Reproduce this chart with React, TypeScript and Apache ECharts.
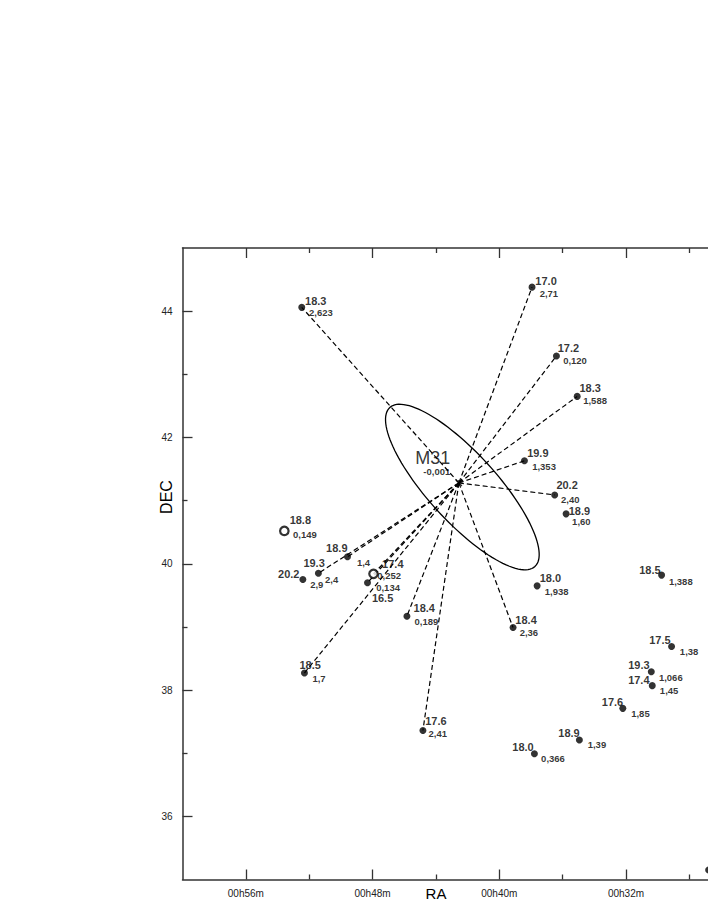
import React, { useEffect, useRef } from "react";
import * as echarts from "echarts";

// ---- data ----
const raMinutes = [52.47, 37.93, 36.39, 35.08, 38.41, 36.5, 35.78, 37.61, 39.13, 45.83, 44.82, 52.3, 48.32, 47.94, 49.58, 51.42, 52.4, 53.57, 29.75, 29.12, 30.4, 30.34, 32.2, 34.94, 37.78, 26.78];
const decDegrees = [44.06, 44.38, 43.29, 42.65, 41.63, 41.09, 40.79, 39.65, 38.99, 39.17, 37.36, 38.27, 39.7, 39.84, 40.11, 39.85, 39.75, 40.52, 39.82, 38.69, 38.29, 38.07, 37.71, 37.21, 36.99, 35.15];
const magnitudes = ["18.3", "17.0", "17.2", "18.3", "19.9", "20.2", "18.9", "18.0", "18.4", "18.4", "17.6", "18.5", "16.5", "17.4", "18.9", "19.3", "20.2", "18.8", "18.5", "17.5", "19.3", "17.4", "17.6", "18.9", "18.0", ""];
const redshifts = ["2,623", "2,71", "0,120", "1,588", "1,353", "2,40", "1,60", "1,938", "2,36", "0,189", "2,41", "1,7", "0,134", "0,252", "1,4", "2,4", "2,9", "0,149", "1,388", "1,38", "1,066", "1,45", "1,85", "1,39", "0,366", ""];
const linkedToM31 = [1, 1, 1, 1, 1, 1, 0, 0, 1, 1, 1, 1, 1, 1, 1, 1, 0, 0, 0, 0, 0, 0, 0, 0, 0, 0];
const openMarker = [0, 0, 0, 0, 0, 0, 0, 0, 0, 0, 0, 0, 0, 1, 0, 0, 0, 1, 0, 0, 0, 0, 0, 0, 0, 0];

const m31Center = [42.55, 41.28];
const m31Name = "M31";
const m31Value = "-0,001";
const ellipseCenter = [42.33, 41.215];
const ellipseMajor = [4.58, 1.259];
const ellipseMinor = [-1.6, 0.365];

const raRange = [26.82, 60];
const decRange = [35, 45];
const raMajorTicks = [32, 40, 48, 56];
const raMinorTicks = [28, 36, 44, 52];
const decMajorTicks = [36, 38, 40, 42, 44];
const decMinorTicks = [37, 39, 41, 43];

// ---- label layout (pixels relative to point) ----
const magLabelPos: [number, number, string][] = [
  [3.3, -6, "left"], [3.3, -6.6, "left"], [1.3, -8.2, "left"], [2.3, -8, "left"], [2.7, -8.2, "left"],
  [1.7, -10, "left"], [2.6, -3.2, "left"], [2.6, -8.2, "left"], [2.3, -7.7, "left"], [6.6, -7.7, "left"],
  [2.3, -9.5, "left"], [-5, -8.1, "left"], [4.4, 15.6, "left"], [9.7, -9, "left"], [0, -9.2, "right"],
  [-15, -10.3, "left"], [-3.4, -5.5, "right"], [6.4, -9.7, "left"], [-1, -5.3, "right"], [-1, -6, "right"],
  [-1.7, -6.4, "right"], [-2.7, -6, "right"], [0.4, -6.1, "right"], [0.3, -6.7, "right"], [-0.7, -6.5, "right"],
  [0, 0, "left"],
];
const valLabelPos: [number, number][] = [
  [7.3, 5], [7.6, 6.4], [6.7, 4.7], [6, 4], [7.7, 5.3], [6.4, 4.4], [6, 7.8], [7.6, 5.7], [6.6, 5], [7.6, 5.7],
  [5.6, 2.6], [8, 6], [8.7, 4.8], [3.7, 1.5], [9.4, 5.8], [6.7, 6.7], [7.3, 5.2], [8.7, 3.3], [7.3, 6.7], [8.3, 5],
  [7.6, 5.3], [7.6, 5], [8.4, 5.4], [8.3, 5], [6.7, 4.8], [0, 0],
];

const FONT = "'Liberation Sans', Arial, Helvetica, sans-serif";
const AXIS_COLOR = "#333";

function xAxisDef(position: string, ticks: number[], len: number, line: boolean, labels: boolean) {
  return {
    type: "value",
    position,
    inverse: true,
    min: raRange[0],
    max: raRange[1],
    axisLine: { show: line, onZero: false, lineStyle: { color: AXIS_COLOR, width: 1.5 } },
    axisTick: { show: true, inside: true, length: len, customValues: ticks, lineStyle: { color: AXIS_COLOR, width: 1.3 } },
    axisLabel: labels
      ? { show: true, customValues: ticks, formatter: (v: number) => "00h" + v + "m", fontFamily: FONT, fontSize: 10, color: "#222", margin: 9 }
      : { show: false },
    splitLine: { show: false },
  };
}
function yAxisDef(ticks: number[], len: number, line: boolean, labels: boolean) {
  return {
    type: "value",
    position: "left",
    min: decRange[0],
    max: decRange[1],
    axisLine: { show: line, onZero: false, lineStyle: { color: AXIS_COLOR, width: 1.5 } },
    axisTick: { show: true, inside: true, length: len, customValues: ticks, lineStyle: { color: AXIS_COLOR, width: 1.3 } },
    axisLabel: labels
      ? { show: true, customValues: ticks, fontFamily: FONT, fontSize: 10, color: "#222", margin: 10 }
      : { show: false },
    splitLine: { show: false },
  };
}

export default function App() {
  const ref = useRef<HTMLDivElement>(null);
  useEffect(() => {
    if (!ref.current) return;
    const chart = echarts.init(ref.current, undefined, { renderer: "svg" });

    const dotSize = 7;
    const openSize = 8.5;
    const starData = raMinutes.map((ra, i) => {
      const open = openMarker[i] === 1;
      const s = open ? openSize : dotSize;
      const p = magLabelPos[i];
      return {
        value: [ra, decDegrees[i]],
        symbolSize: s,
        itemStyle: open
          ? { color: "#fff", borderColor: "#000", borderWidth: 2.2 }
          : { color: "#000" },
        label: {
          show: magnitudes[i] !== "",
          formatter: magnitudes[i],
          position: [s / 2 + p[0], s / 2 + p[1]],
          align: p[2],
          verticalAlign: "middle",
        },
      };
    });
    const valData = raMinutes.map((ra, i) => {
      const p = valLabelPos[i];
      return {
        value: [ra, decDegrees[i]],
        label: {
          show: redshifts[i] !== "",
          formatter: redshifts[i],
          position: [0.5 + p[0], 0.5 + p[1]],
          align: "left",
          verticalAlign: "middle",
        },
      };
    });
    const linkData = raMinutes
      .map((ra, i) => ({ i, ra }))
      .filter((d) => linkedToM31[d.i] === 1)
      .map((d) => ({ coords: [m31Center, [d.ra, decDegrees[d.i]]] }));

    const option: any = {
      animation: false,
      grid: { left: 182.5, top: 248, right: 0, bottom: 37.5 },
      xAxis: [
        xAxisDef("bottom", raMajorTicks, 10, true, true),
        xAxisDef("bottom", raMinorTicks, 5, false, false),
        xAxisDef("top", raMajorTicks, 10, true, false),
        xAxisDef("top", raMinorTicks, 5, false, false),
      ],
      yAxis: [
        yAxisDef(decMajorTicks, 10, true, true),
        yAxisDef(decMinorTicks, 5, false, false),
      ],
      graphic: [
        {
          type: "text", x: 436, y: 893,
          style: { text: "RA", font: "15px " + FONT, fill: "#000", align: "center", verticalAlign: "middle" },
        },
        {
          type: "text", x: 166, y: 497, rotation: Math.PI / 2,
          style: { text: "DEC", font: "16px " + FONT, fill: "#000", align: "center", verticalAlign: "middle" },
        },
      ],
      series: [
        {
          type: "custom",
          renderItem: (params: any, api: any) => {
            const c = api.coord(ellipseCenter);
            const a = api.coord([ellipseCenter[0] + ellipseMajor[0], ellipseCenter[1] + ellipseMajor[1]]);
            const b = api.coord([ellipseCenter[0] + ellipseMinor[0], ellipseCenter[1] + ellipseMinor[1]]);
            const pts: number[][] = [];
            const n = 120;
            for (let k = 0; k <= n; k++) {
              const t = (2 * Math.PI * k) / n;
              pts.push([
                c[0] + (a[0] - c[0]) * Math.cos(t) + (b[0] - c[0]) * Math.sin(t),
                c[1] + (a[1] - c[1]) * Math.cos(t) + (b[1] - c[1]) * Math.sin(t),
              ]);
            }
            return {
              type: "polygon",
              shape: { points: pts },
              style: { fill: "none", stroke: "#000", lineWidth: 1.3 },
            };
          },
          data: [[ellipseCenter[0], ellipseCenter[1]]],
          silent: true,
          clip: false,
        },
        {
          type: "lines",
          coordinateSystem: "cartesian2d",
          data: linkData,
          lineStyle: { color: "#000", width: 1.2, type: [5, 3], opacity: 1 },
          silent: true,
        },
        {
          type: "scatter",
          data: starData,
          clip: false,
          silent: true,
          label: { fontFamily: FONT, fontSize: 11, fontWeight: "bold", color: "#000" },
          z: 5,
        },
        {
          type: "scatter",
          data: valData,
          symbolSize: 1,
          itemStyle: { color: "transparent" },
          clip: false,
          silent: true,
          label: { fontFamily: FONT, fontSize: 9.5, fontWeight: "bold", color: "#000" },
          z: 5,
        },
        {
          type: "scatter",
          data: [
            {
              value: m31Center,
              label: { show: true, formatter: m31Name, position: [3 - 25.3, 3 - 24.5], align: "center", verticalAlign: "middle", fontFamily: FONT, fontSize: 18, color: "#000" },
            },
          ],
          symbol: "path://M0,0L10,10M10,0L0,10M5,0L5,10",
          symbolSize: 6,
          itemStyle: { color: "transparent", borderColor: "#000", borderWidth: 1.5 },
          clip: false,
          silent: true,
          z: 6,
        },
        {
          type: "scatter",
          data: [
            {
              value: m31Center,
              label: { show: true, formatter: m31Value, position: [0.5 - 22.1, 0.5 - 11.5], align: "center", verticalAlign: "middle", fontFamily: FONT, fontSize: 9.5, fontWeight: "bold", color: "#000" },
            },
          ],
          symbolSize: 1,
          itemStyle: { color: "transparent" },
          clip: false,
          silent: true,
          z: 6,
        },
      ],
    };
    chart.setOption(option);
    return () => chart.dispose();
  }, []);
  return (
    <div
      ref={ref}
      style={{ position: "absolute", left: 0, top: 0, width: 708, height: 917, background: "#fff" }}
    />
  );
}
